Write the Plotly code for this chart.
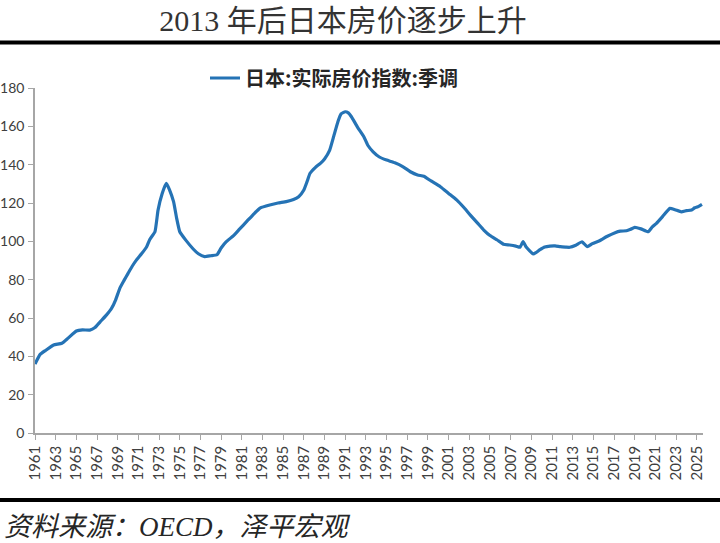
import plotly.graph_objects as go

years = [1961.0, 1961.5, 1962.0, 1962.8, 1963.6, 1964.2, 1965.0, 1965.6, 1966.3, 1966.8,
         1967.3, 1967.9, 1968.4, 1968.8, 1969.2, 1969.6, 1970.0, 1970.4, 1970.8, 1971.3,
         1971.8, 1972.1, 1972.6, 1972.9, 1973.3, 1973.7, 1974.0, 1974.4, 1974.7, 1975.0,
         1975.6, 1976.3, 1976.8, 1977.4, 1978.0, 1978.6, 1979.0, 1979.5, 1980.2, 1980.8,
         1981.5, 1982.2, 1982.8, 1983.7, 1984.5, 1985.3, 1986.0, 1986.5, 1987.0, 1987.3,
         1987.6, 1988.1, 1988.6, 1989.0, 1989.5, 1989.9, 1990.3, 1990.6, 1991.0, 1991.3,
         1991.6, 1992.2, 1992.8, 1993.2, 1993.7, 1994.3, 1995.0, 1995.8, 1996.6, 1997.3,
         1998.0, 1998.6, 1999.3, 2000.2, 2001.0, 2001.8, 2002.5, 2003.1, 2003.8, 2004.4,
         2005.0, 2005.7, 2006.3, 2006.9, 2007.5, 2007.9, 2008.2, 2008.5, 2009.2, 2009.8,
         2010.3, 2010.8, 2011.3, 2011.8, 2012.3, 2012.7, 2013.3, 2013.9, 2014.4, 2014.9,
         2015.6, 2016.3, 2017.1, 2017.6, 2018.2, 2018.6, 2019.0, 2019.6, 2020.3, 2020.7,
         2021.1, 2021.7, 2022.4, 2022.9, 2023.5, 2024.0, 2024.5, 2024.8, 2025.1, 2025.5]

index_values = [36.0, 41.0, 43.0, 45.9, 46.8, 49.5, 53.2, 53.8, 53.7, 55.0,
                58.0, 61.5, 65.0, 69.5, 75.5, 79.5, 83.3, 87.0, 90.2, 93.5,
                97.2, 101.0, 105.0, 116.3, 125.0, 130.3, 127.0, 120.7, 112.0, 105.0,
                100.5, 96.0, 93.5, 92.0, 92.5, 93.0, 96.5, 99.8, 103.0, 106.5,
                110.5, 114.5, 117.5, 119.0, 120.0, 120.7, 121.8, 123.3, 126.8, 131.0,
                135.5, 138.5, 140.7, 143.0, 147.6, 155.0, 162.5, 166.5, 167.6, 167.0,
                165.0, 159.5, 154.6, 150.0, 146.7, 144.0, 142.4, 141.0, 138.9, 136.3,
                134.6, 134.0, 131.5, 128.5, 125.0, 121.5, 117.5, 113.7, 109.5, 105.9,
                103.0, 100.7, 98.5, 98.1, 97.5, 96.9, 99.8, 97.0, 93.4, 95.5,
                97.0, 97.5, 97.6, 97.2, 97.0, 96.9, 98.0, 99.8, 97.2, 98.8,
                100.3, 102.5, 104.5, 105.3, 105.5, 106.3, 107.3, 106.5, 105.0, 107.5,
                109.4, 113.0, 117.2, 116.5, 115.4, 116.0, 116.3, 117.5, 118.0, 119.3]

tick_years = list(range(1961, 2026, 2))
tick_labels = [str(y) for y in tick_years]
y_ticks = list(range(0, 181, 20))

series_name = "日本:实际房价指数:季调"
title_text = "2013 年后日本房价逐步上升"
source_text = "资料来源：OECD，泽平宏观"

W, H = 720, 543
L, R, T, B = 35, 17, 88, 110
pw = W - L - R
ph = H - T - B

def px_x(p):
    return (p - L) / pw

def px_y(p):
    return (H - B - p) / ph

fig = go.Figure()
fig.add_trace(go.Scatter(
    x=years, y=index_values, mode="lines", name=series_name,
    line=dict(color="#2573B5", width=3.2, shape="spline", smoothing=0.4),
))

axis_color = "#a6a6a6"

fig.update_layout(
    width=W, height=H,
    margin=dict(l=L, r=R, t=T, b=B, autoexpand=False),
    paper_bgcolor="white", plot_bgcolor="white",
    showlegend=True,
    legend=dict(
        orientation="h", x=px_x(205), y=px_y(78), xanchor="left", yanchor="middle",
        font=dict(family="Noto Sans CJK SC", size=20, color="#262626", weight="bold"),
        bgcolor="rgba(0,0,0,0)", itemwidth=30,
    ),
    title=dict(
        text=title_text, x=343 / W, xref="container", xanchor="center",
        y=1 - 20 / H, yref="container", yanchor="middle",
        font=dict(family="Liberation Serif, Noto Sans CJK SC", size=30, color="#333333"),
    ),
    xaxis=dict(
        range=[1961, 2025.6], tickmode="array", tickvals=tick_years, ticktext=tick_labels,
        tickangle=-90, ticks="outside", ticklen=5, tickcolor=axis_color,
        showline=True, linecolor=axis_color, linewidth=1.5, showgrid=False, zeroline=False,
        tickfont=dict(family="Lato, Open Sans, sans-serif", size=15, color="#404040"),
        automargin=False,
    ),
    yaxis=dict(
        range=[0, 180], tickmode="array", tickvals=y_ticks,
        ticks="outside", ticklen=5, tickcolor=axis_color,
        showline=True, linecolor=axis_color, linewidth=1.5, showgrid=False, zeroline=False,
        tickfont=dict(family="Lato, Open Sans, sans-serif", size=14, color="#404040"),
        automargin=False, ticklabelstandoff=1,
    ),
    shapes=[
        dict(type="line", xref="paper", yref="paper", x0=px_x(0), x1=px_x(W),
             y0=px_y(42.5), y1=px_y(42.5), line=dict(color="black", width=4)),
        dict(type="line", xref="paper", yref="paper", x0=px_x(0), x1=px_x(W),
             y0=px_y(500), y1=px_y(500), line=dict(color="black", width=4)),
    ],
    annotations=[
        dict(text=source_text, xref="paper", yref="paper", x=px_x(2), y=px_y(527),
             xanchor="left", yanchor="middle", showarrow=False,
             font=dict(family="Liberation Serif, Noto Sans CJK SC", size=27,
                       color="#262626", style="italic")),
    ],
)

fig.write_html("out.html", config={"displayModeBar": False},
               post_script="document.body.style.margin='0px';")
